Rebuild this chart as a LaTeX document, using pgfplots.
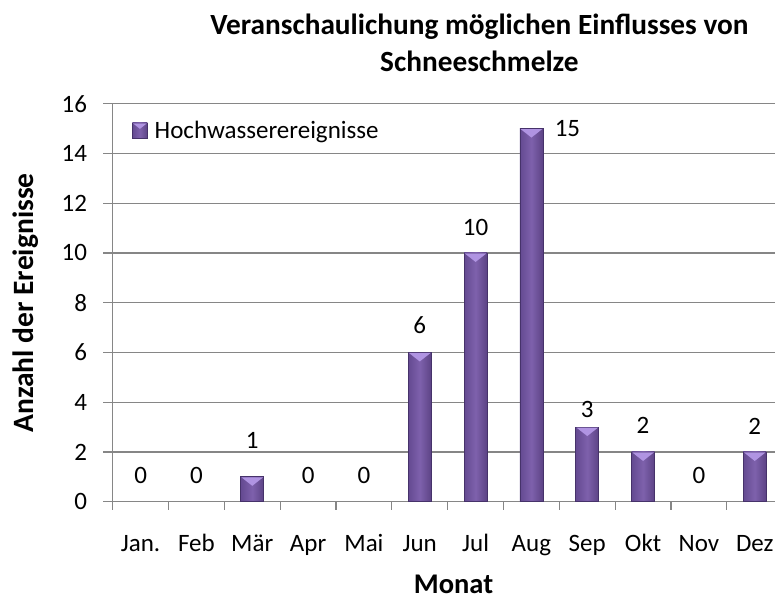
\documentclass[border=0pt]{standalone}
\usepackage{fontspec}
\setmainfont{Carlito}
\usepackage{pgfplots}
\pgfplotsset{compat=1.18}
\usepackage{pgfplotstable}

\definecolor{axisgray}{RGB}{134,134,134}
\definecolor{barL}{RGB}{100,74,145}
\definecolor{barM}{RGB}{126,97,172}
\definecolor{barR}{RGB}{92,67,133}
\definecolor{barline}{RGB}{70,50,106}
\definecolor{bevel}{RGB}{176,148,226}

\pgfdeclareplotmark{topbevel}{%
  \pgfpathmoveto{\pgfqpoint{-10.8bp}{-0.5bp}}%
  \pgfpathlineto{\pgfqpoint{10.8bp}{-0.5bp}}%
  \pgfpathlineto{\pgfqpoint{0bp}{-9bp}}%
  \pgfpathclose
  \pgfusepathqfill}

\pgfplotstableread{
x y dx dy
0 0 0 26
1 0 0 26
2 1 0 36
3 0 0 26
4 0 0 26
5 6 0 27
6 10 0 25
7 15 36 0
8 3 0 18
9 2 0 27
10 0 0 26
11 2 0 26
}\datatable

\pgfplotsset{barstyle/.style={ybar, bar shift=0pt, bar width=23bp, draw=barline, line width=0.8bp,
  left color=barL, right color=barR, middle color=barM,
  mark=topbevel, mark options={fill=bevel, draw=none}}}

\begin{document}
\begin{tikzpicture}
\useasboundingbox (0,0) rectangle (775bp,599bp);
\begin{axis}[
  at={(112.7bp,97.3bp)}, anchor=south west,
  scale only axis, width=662.3bp, height=398bp,
  xmin=-0.5, xmax=11.363, ymin=0, ymax=16,
  ybar, bar width=23bp,
  axis x line*=bottom, axis y line*=left,
  axis line style={draw=axisgray, line width=1.2bp},
  ymajorgrids, grid style={draw=axisgray, line width=1.2bp},
  ytick={0,2,...,16},
  xtick={0,...,11},
  xticklabels={Jan.,Feb,Mär,Apr,Mai,Jun,Jul,Aug,Sep,Okt,Nov,Dez},
  minor xtick={-0.5,0.5,...,10.5},
  major x tick style={draw=none},
  minor x tick style={draw=axisgray, line width=1.2bp},
  ytick style={draw=axisgray, line width=1.2bp},
  tick align=outside,
  major tick length=9.5bp, minor tick length=8bp,
  /pgf/number format/assume math mode=true,
  ticklabel style={font=\fontsize{25bp}{30bp}\selectfont, text=black},
  yticklabel style={anchor=east, inner sep=0pt, xshift=-16bp},
  xticklabel style={anchor=base, inner sep=0pt, yshift=-40bp},
  title={Veranschaulichung möglichen Einflusses von\\Schneeschmelze},
  title style={at={(axis description cs:0.5537,1.1382)}, anchor=center, align=center, font=\bfseries\fontsize{29.3bp}{36.7bp}\selectfont},
  xlabel={Monat},
  xlabel style={at={(axis description cs:0.5146,-0.2294)}, anchor=base, inner sep=0pt, font=\bfseries\fontsize{28.5bp}{34bp}\selectfont},
  ylabel={Anzahl der Ereignisse},
  ylabel style={at={(axis description cs:-0.1203,0.4992)}, anchor=base, inner sep=0pt, font=\bfseries\fontsize{29.5bp}{34bp}\selectfont},
  legend style={at={(axis description cs:0.029,0.933)}, anchor=west, draw=none, fill=none, inner sep=0pt,
    font=\fontsize{25bp}{30bp}\selectfont, nodes={inner xsep=7bp}},
  legend image code/.code={\draw[barline, line width=0.6bp, left color=barL, right color=barR, middle color=barM] (0bp,-7.5bp) rectangle (15bp,7.5bp);
    \fill[bevel] (0.6bp,7bp) -- (14.4bp,7bp) -- (7.5bp,1.5bp) -- cycle;},
]
\pgfplotsinvokeforeach{2,5,6,7,8,9,11}{
  \addplot[barstyle, forget plot, restrict expr to domain={\coordindex}{#1:#1}]
    table[x=x,y=y]{\datatable};
}
\addplot[ybar, bar shift=0pt, draw=none, fill=none,
  nodes near coords,
  visualization depends on={\thisrow{dx} \as \dx},
  visualization depends on={\thisrow{dy} \as \dy},
  every node near coord/.append style={anchor=center, inner sep=0pt,
    xshift=\dx*1bp, yshift=\dy*1bp, text=black,
    font=\fontsize{25bp}{30bp}\selectfont}]
  table[x=x,y=y]{\datatable};
\addlegendentry{Hochwasserereignisse}
\end{axis}
\end{tikzpicture}
\end{document}
